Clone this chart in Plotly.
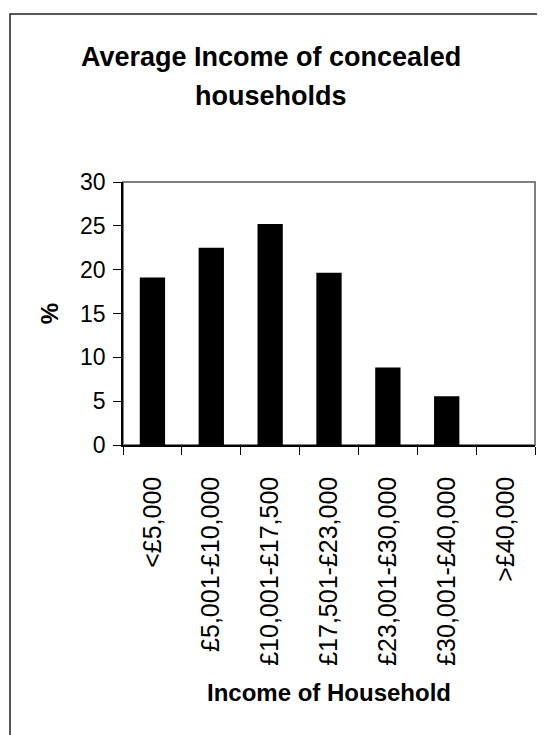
import plotly.graph_objects as go

categories = ["<£5,000", "£5,001-£10,000", "£10,001-£17,500", "£17,501-£23,000",
              "£23,001-£30,000", "£30,001-£40,000", ">£40,000"]
percent = [19.1, 22.5, 25.2, 19.65, 8.85, 5.55, 0]
y_ticks = [0, 5, 10, 15, 20, 25, 30]
title_lines = ["Average Income of concealed", "households"]

# figure sits at (8, 8) on the page because of the default body margin
W, H = 537, 727
L, R, T, B = 115, 10, 174, 290
pw, ph = W - L - R, H - T - B

def px_x(x):
    return (x - L) / pw

def px_y(y):
    return (T + ph - y) / ph

FONT = "Liberation Sans, Arial, sans-serif"

fig = go.Figure(go.Bar(x=categories, y=percent, marker=dict(color="black", line=dict(width=0))))

annotations = []
for i, line in enumerate(title_lines):
    annotations.append(dict(
        text="<b>%s</b>" % line, xref="paper", yref="paper",
        x=px_x(263), y=px_y(49.5 + 38 * i), xanchor="center", yanchor="middle",
        showarrow=False, font=dict(size=27, family=FONT, color="black")))

fig.update_layout(
    width=W, height=H,
    margin=dict(l=L, r=R, t=T, b=B, autoexpand=False),
    paper_bgcolor="white", plot_bgcolor="white",
    bargap=0.57,
    showlegend=False,
    font=dict(family=FONT, color="black"),
    annotations=annotations,
    shapes=[
        dict(type="rect", xref="paper", yref="paper",
             x0=px_x(2), x1=px_x(560), y0=px_y(6), y1=px_y(760),
             line=dict(color="#222222", width=1.5), layer="below"),
        dict(type="rect", xref="paper", yref="paper",
             x0=0, x1=1, y0=0, y1=1,
             line=dict(color="#808080", width=2), layer="below"),
    ],
)

fig.update_xaxes(
    type="category", tickson="boundaries", ticks="outside", ticklen=8,
    tickcolor="black", tickwidth=1, tickangle=-90, ticklabelstandoff=20,
    tickfont=dict(size=25, family=FONT, color="black"),
    showline=True, linecolor="black", linewidth=1.5,
    showgrid=False, zeroline=False,
    title=dict(text="<b>Income of Household</b>", font=dict(size=24, family=FONT, color="black"), standoff=19),
    automargin=False,
)

fig.update_yaxes(
    range=[0, 30], tickvals=y_ticks, ticks="outside", ticklen=8,
    tickcolor="black", tickwidth=1, ticklabelstandoff=3,
    tickfont=dict(size=23, family=FONT, color="black"),
    showline=True, linecolor="black", linewidth=1.5,
    showgrid=False, zeroline=False,
    title=dict(text="<b>%</b>", font=dict(size=24, family=FONT, color="black"), standoff=15),
    automargin=False,
)

fig.write_html("out.html")
